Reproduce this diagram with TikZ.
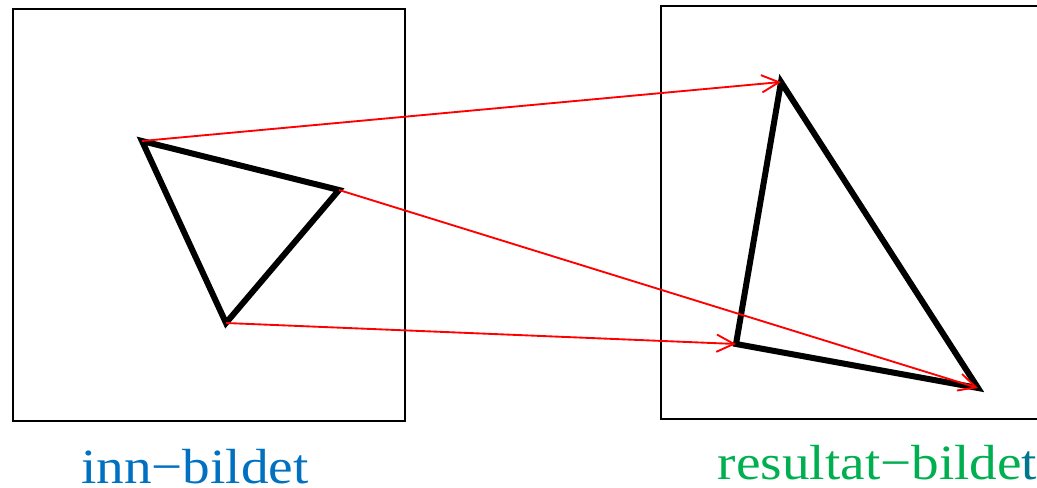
\documentclass[tikz,border=0pt]{standalone}
\usepackage{fontspec}
\setmainfont{Liberation Serif}
\newfontfamily\capfont[FakeStretch=1.12]{Liberation Serif}
\usetikzlibrary{arrows.meta,calc}
\definecolor{InnBlue}{RGB}{0,112,192}
\definecolor{ResGreen}{RGB}{0,176,80}
\definecolor{EndTeal}{RGB}{0,120,140}
\tikzset{
  frame/.style={black,line width=1.1pt},
  tri/.style={black,line width=4.5pt},
  map/.style={red,line width=1.4pt,-{Straight Barb[length=13pt,width=13pt,line width=1.4pt]}},
  caption/.style={font=\capfont\fontsize{37}{42}\selectfont,anchor=base}
}

\begin{document}
\begin{tikzpicture}[x=0.75pt,y=-0.75pt]
			\useasboundingbox (0,0) rectangle (1037,488);
			\draw[frame] (13,9) rectangle (405,421);
			\draw[frame] (661,6) rectangle (1050,419);
			\coordinate (a) at (142,141);
			\coordinate (b) at (339,190);
			\coordinate (c) at (226,323);
			\coordinate (a') at (781,82);
			\coordinate (b') at (978,388);
			\coordinate (c') at (736,344);
			\draw[tri] (a)--(b)--(c)--cycle;
			\draw[tri] (a')--(b')--(c')--cycle;
			\draw[map] (a)--(a');
			\draw[map] (b)--(b');
			\draw[map] (c)--(c');
			\node[caption,text=InnBlue] (inn) at (195,483) {inn−bildet};
			\node[caption,text=ResGreen,anchor=base west] (res) at (713,479) {resultat−bilde\textcolor{EndTeal}{t}};
		\end{tikzpicture}
\end{document}
